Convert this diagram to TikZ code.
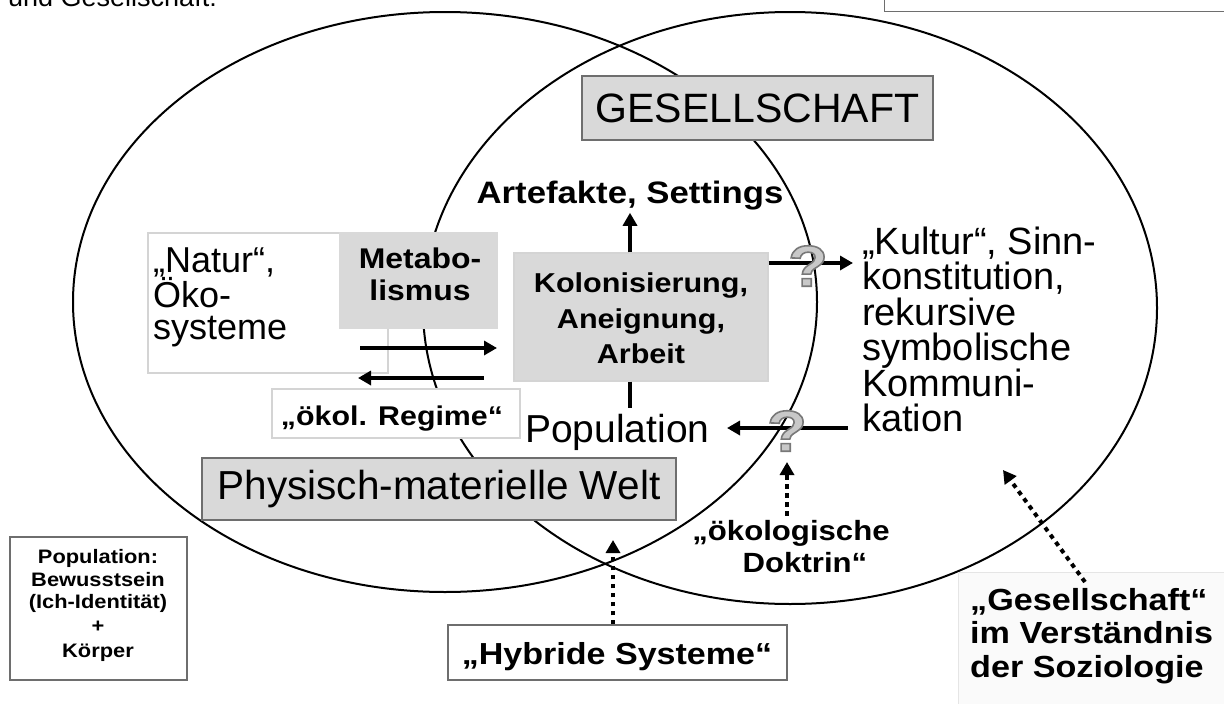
\documentclass[tikz,border=0pt]{standalone}
\usepackage{fontspec}
\setmainfont{Liberation Sans}
\newfontfamily\bfont{Liberation Sans Bold}[FakeStretch=1.12]
\usetikzlibrary{arrows.meta}
\definecolor{boxgray}{HTML}{D9D9D9}
\definecolor{edgegray}{HTML}{6E6E6E}
\definecolor{lightedge}{HTML}{D4D4D4}
\definecolor{qgray}{HTML}{C8C8C8}
\newcommand{\myfsz}[1]{\fontsize{#1}{#1}\selectfont}
\newcommand{\mybsz}[1]{\bfont\fontsize{#1}{#1}\selectfont}
\newcommand{\outl}[1]{\special{pdf:literal direct 0.47 G 1.6 w 2 Tr}#1\special{pdf:literal direct 0 Tr}}
\begin{document}
\begin{tikzpicture}[x=1pt,y=-1pt,
  ell/.style={line width=2pt},
  box/.style={inner sep=0pt, line width=1.2pt, anchor=center},
  tl/.style={inner sep=0pt, anchor=base west},
  tc/.style={inner sep=0pt, anchor=base},
  tr/.style={inner sep=0pt, anchor=base east},
  arr/.style={line width=4pt, -{Triangle[length=13pt,width=14pt]}},
  dotarr/.style={line width=4pt, dash pattern=on 4.5pt off 4.5pt, -{Triangle[length=13pt,width=14pt]}},
  qm/.style={inner sep=0pt, font=\mybsz{58}, text=qgray},
]
\useasboundingbox (0,0) rectangle (1224,704);
\clip (0,0) rectangle (1224,704);
\fill[white] (0,0) rectangle (1224,704);

% top remnants
\node[tl, font=\myfsz{27}] (und) at (8,6.5) {und Gesellschaft:};
\node[box, draw=edgegray, fill=white, minimum width=360pt, minimum height=40pt, anchor=south west] (trbox) at (884,12) {};

% ellipses
\draw[ell] (445,302) ellipse [x radius=372, y radius=290];
\draw[ell] (790,308) ellipse [x radius=367, y radius=296];

% GESELLSCHAFT
\node[box, fill=boxgray, draw=edgegray, minimum width=351pt, minimum height=64pt, font=\myfsz{41}] (ges) at (757.5,108) {GESELLSCHAFT};

% Artefakte
\node[tc, font=\mybsz{31}] (art) at (630,203) {Artefakte, Settings};

% Kolonisierung
\node[box, fill=boxgray, draw=lightedge, minimum width=254pt, minimum height=128pt] (kol) at (641,317) {};
\node[tc, font=\mybsz{27.3}] (kol1) at (641,292) {Kolonisierung,};
\node[tc, font=\mybsz{27.3}] (kol2) at (641,328) {Aneignung,};
\node[tc, font=\mybsz{27.3}] (kol3) at (641,363) {Arbeit};

% Natur box
\node[box, fill=white, draw=lightedge, minimum width=240pt, minimum height=140pt] (nat) at (268,303) {};
\node[tl, font=\myfsz{36}] (nat1) at (153,272) {„Natur“,};
\node[tl, font=\myfsz{36}] (nat2) at (153,307) {Öko-};
\node[tl, font=\myfsz{36}] (nat3) at (153,339) {systeme};

% Metabolismus
\node[box, fill=boxgray, draw=boxgray, minimum width=157pt, minimum height=95pt] (met) at (418.5,280.5) {};
\node[tc, font=\mybsz{28.5}] (met1) at (420,268) {Metabo-};
\node[tc, font=\mybsz{28.5}] (met2) at (420,300) {lismus};

% metabolism arrows
\coordinate (m1s) at (360,348);
\coordinate (m1e) at (497,348);
\coordinate (m2s) at (484,378);
\coordinate (m2e) at (358,378);
\draw[arr] (m1s) -- (m1e);
\draw[arr] (m2s) -- (m2e);

% oekol. Regime
\node[box, fill=white, draw=lightedge, minimum width=248pt, minimum height=49pt] (reg) at (396,413.5) {};
\node[tc, font=\mybsz{27.1}] (regt) at (392,425) {„ökol. Regime“};

% Population
\node[tl, font=\myfsz{39}] (pop) at (525,442) {Population};

% vertical connectors
\draw[arr] (kol.north -| art.south) -- ([yshift=-3pt]art.south);
\draw[line width=4pt] (kol.south -| art.south) -- ([yshift=6pt]pop.north -| art.south);

% Physisch-materielle Welt
\node[box, fill=boxgray, draw=edgegray, minimum width=474pt, minimum height=62pt, font=\myfsz{40.5}] (phys) at (439,489) {Physisch-materielle Welt};

% Kultur text
\node[tl, font=\myfsz{38}] (kul1) at (862,254) {„Kultur“, Sinn-};
\node[tl, font=\myfsz{38}] (kul2) at (862,289.5) {konstitution,};
\node[tl, font=\myfsz{38}] (kul3) at (862,325) {rekursive};
\node[tl, font=\myfsz{38}] (kul4) at (862,360.5) {symbolische};
\node[tl, font=\myfsz{38}] (kul5) at (862,396) {Kommuni-};
\node[tl, font=\myfsz{38}] (kul6) at (862,431.5) {kation};

% question-mark arrows
\coordinate (kulin) at (853,263);
\coordinate (kulout) at (848,428);
\coordinate (popin) at (727,428);
\draw[arr] (kol.east |- kulin) -- (kulin);
\draw[arr] (kulout) -- (popin);
\node[qm] (q1) at (808,266) {\outl{?}};
\node[qm] (q2) at (787,431) {\outl{?}};

% oekologische Doktrin
\node[tc, font=\mybsz{27.8}] (dok1) at (791,540) {„ökologische};
\node[tc, font=\mybsz{27.8}] (dok2) at (805,572) {Doktrin“};
\coordinate (dokt) at (787,462);
\draw[dotarr] ([yshift=4pt]dok1.north -| dokt) -- (dokt);

% Hybride Systeme
\node[box, fill=white, draw=edgegray, minimum width=339pt, minimum height=55pt] (hyb) at (617.5,652.5) {};
\node[tc, font=\mybsz{30.4}] (hybt) at (617,664) {„Hybride Systeme“};
\coordinate (hybtip) at (613,540);
\draw[dotarr] (hyb.north -| hybtip) -- (hybtip);

% Population box
\node[box, fill=white, draw=edgegray, minimum width=177pt, minimum height=143pt] (pbox) at (98.5,608.5) {};
\node[tc, font=\mybsz{19.5}] (pb1) at (98,563) {Population:};
\node[tc, font=\mybsz{19.5}] (pb2) at (98,586) {Bewusstsein};
\node[tc, font=\mybsz{19.5}] (pb3) at (98,608) {(Ich-Identität)};
\node[tc, font=\mybsz{19.5}] (pb4) at (98,632) {+};
\node[tc, font=\mybsz{19.5}] (pb5) at (98,657) {Körper};

% Gesellschaft im Verstaendnis der Soziologie
\node[box, fill=black!2, draw=black!10, minimum width=290pt, minimum height=150pt, anchor=north west] (soz) at (958,572) {};
\node[tl, font=\mybsz{30.5}] (soz1) at (970,610) {„Gesellschaft“};
\node[tl, font=\mybsz{30.5}] (soz2) at (970,643) {im Verständnis};
\node[tl, font=\mybsz{30.5}] (soz3) at (970,677) {der Soziologie};
\coordinate (sozs) at (1085,582);
\coordinate (sozt) at (1003,470);
\draw[dotarr] (sozs) -- (sozt);
\end{tikzpicture}
\end{document}
